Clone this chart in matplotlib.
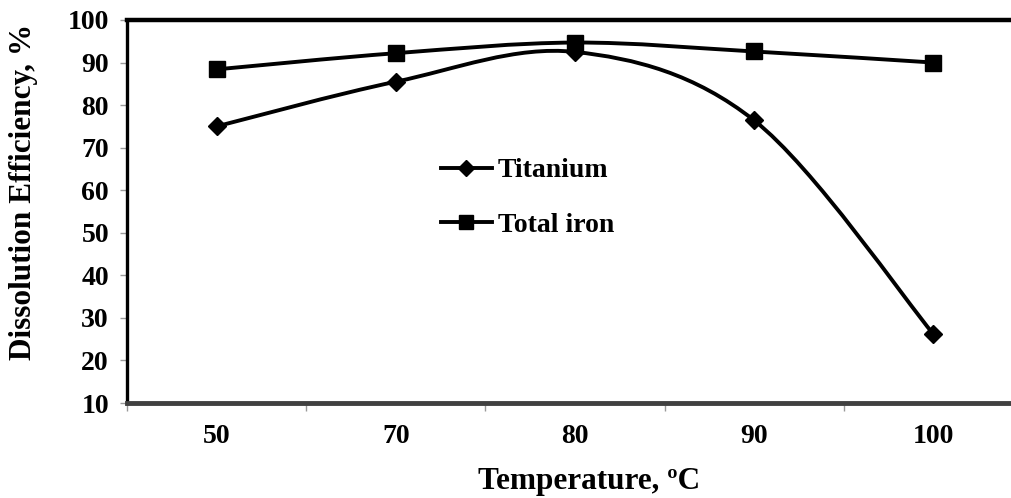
import numpy as np
import matplotlib
matplotlib.use("Agg")
import matplotlib.pyplot as plt
from matplotlib.path import Path
from matplotlib.patches import PathPatch

temps = ["50", "70", "80", "90", "100"]
titanium = [75.0, 85.5, 92.5, 76.4, 26.2]
total_iron = [88.4, 92.2, 94.7, 92.6, 90.0]

plt.rcParams["font.family"] = ["Liberation Serif", "DejaVu Serif"]
plt.rcParams["font.weight"] = "bold"


def smooth_path(x, y):
    # excel-like smoothed line (catmull-rom as bezier)
    pts = np.column_stack([x, y]).astype(float)
    ext = np.vstack([pts[0], pts, pts[-1]])
    verts = [pts[0]]
    codes = [Path.MOVETO]
    for i in range(len(pts) - 1):
        p0, p1, p2, p3 = ext[i], ext[i + 1], ext[i + 2], ext[i + 3]
        verts += [p1 + (p2 - p0) / 6, p2 - (p3 - p1) / 6, p2]
        codes += [Path.CURVE4] * 3
    return Path(verts, codes)


fig = plt.figure(figsize=(10.11, 4.98), dpi=100)
ax = fig.add_axes([127 / 1011, 95 / 498, (1023 - 127) / 1011, 383 / 498])

x = np.arange(len(temps))
for vals, mk, ms in [(titanium, "D", 9), (total_iron, "s", 11)]:
    ax.add_patch(PathPatch(smooth_path(x, vals), fill=False, lw=2.8, color="black", zorder=2))
    ax.plot(x, vals, ls="none", marker=mk, ms=ms, color="black", zorder=3)

# legend handles
h1, = ax.plot([], [], color="black", lw=2.8, marker="D", ms=8, label="Titanium")
h2, = ax.plot([], [], color="black", lw=2.8, marker="s", ms=10, label="Total iron")
ax.legend(handles=[h1, h2], loc="upper left", bbox_to_anchor=(0.35, 0.64),
          frameon=False, handlelength=1.85, handletextpad=0.2, labelspacing=1.05,
          borderpad=0, borderaxespad=0,
          prop={"family": "Liberation Serif", "weight": "bold", "size": 20})

ax.set_xlim(-0.5, 4.5)
ax.set_ylim(10, 100)
ax.set_yticks(range(10, 101, 10))
ax.set_xticks(x)
ax.set_xticklabels(temps)
ax.set_xticks(np.arange(-0.5, 5, 1), minor=True)
ax.tick_params(axis="x", which="major", length=0, pad=15, labelsize=20)
ax.tick_params(axis="x", which="minor", length=6, width=1, color="#999999")
ax.tick_params(axis="y", length=5, width=1, color="#999999", labelsize=20, pad=8)

ax.spines["right"].set_visible(False)
ax.spines["top"].set_linewidth(3.2)
ax.spines["left"].set_linewidth(2.4)
ax.spines["bottom"].set_linewidth(3.5)
ax.spines["bottom"].set_color("#404040")

ax.set_ylabel("Dissolution Efficiency, %", fontsize=22.5, fontweight="bold")
ax.yaxis.set_label_coords(-0.099, 0.551)
ax.set_xlabel("Temperature, \u00baC", fontsize=22.5, fontweight="bold")
ax.xaxis.set_label_coords(0.516, -0.166)

fig.savefig("out.png", dpi=100)
